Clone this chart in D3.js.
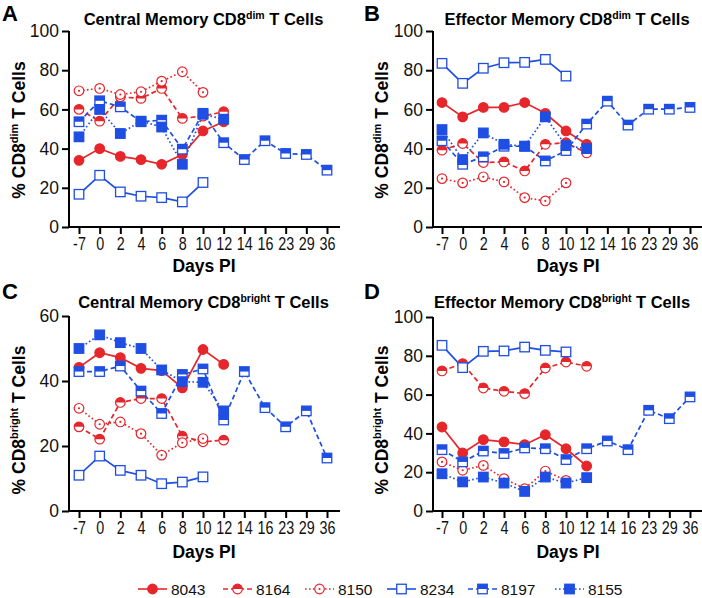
<!DOCTYPE html>
<html>
<head>
<meta charset="utf-8">
<script src="https://cdn.jsdelivr.net/npm/d3@7"></script>
<style>
  html, body { margin: 0; padding: 0; background: #fff; }
  svg { display: block; font-family: "Liberation Sans", Arial, Helvetica, sans-serif; }
</style>
</head>
<body>
<svg id="chart" width="702" height="598"></svg>
<script>
// ---- Data ----
const days = ["-7","0","2","4","6","8","10","12","14","16","23","29","36"];
const seriesIds = ["8043","8164","8150","8234","8197","8155"];

// Panel A: Central Memory CD8dim
const A_8043 = [34, 40, 36, 34.4, 32, 37, 49, 53.7];
const A_8164 = [60, 54, 66.4, 65.6, 70.7, 55.4, 56.6, 58.8];
const A_8150 = [69.5, 70.7, 67.6, 69, 74.4, 79.2, 68.7];
const A_8234 = [16.7, 26.4, 17.9, 15.7, 15, 12.8, 22.7];
const A_8197 = [53.7, 64.4, 61.3, 53.7, 54.5, 39.7, 58, 43, 34.4, 44, 37.5, 37, 29];
const A_8155 = [46, 60, 47.7, 54, 51, 32, 57.5, 55];

// Panel B: Effector Memory CD8dim
const B_8043 = [63.5, 56.2, 61, 61, 63.5, 58, 49, 42.2];
const B_8164 = [39.2, 42.6, 32.9, 33.2, 28.6, 42.2, 43, 37.8];
const B_8150 = [24.7, 22.5, 25.6, 23, 15, 13.3, 22.5];
const B_8234 = [83.5, 73.3, 81, 83.8, 84, 85.5, 77];
const B_8197 = [44, 32, 35.8, 41.2, 41.2, 33.7, 39, 52.5, 64.2, 52, 60.1, 60.1, 61];
const B_8155 = [49.7, 34.4, 48, 42.2, 41.2, 56.2, 41.5, 40];

// Panel C: Central Memory CD8bright
const C_8043 = [44.2, 48.7, 47.2, 43.9, 43.2, 37.9, 49.7, 45.1];
const C_8164 = [25.9, 22.1, 33.4, 34.6, 34.6, 23, 21.3, 21.8];
const C_8150 = [31.6, 26.7, 27.4, 23.8, 17.2, 21, 22.3];
const C_8234 = [11, 16.9, 12.5, 11, 8.4, 8.9, 10.5];
const C_8197 = [42.9, 42.9, 44.6, 36.9, 30, 42, 43.7, 28, 42.9, 31.8, 25.9, 30.8, 16.3];
const C_8155 = [50, 54.2, 51.8, 50, 43.4, 39.8, 39.6, 30.8];

// Panel D: Effector Memory CD8bright
const D_8043 = [43.3, 29.9, 36.8, 35.6, 34.2, 39.3, 32.1, 23.2];
const D_8164 = [72.2, 76, 63.4, 61.7, 60.5, 73.7, 76.8, 74.6];
const D_8150 = [25.3, 21, 23.5, 16.7, 11.5, 20.6, 15.8];
const D_8234 = [85.4, 73.9, 82.3, 82.5, 84.5, 82.8, 82];
const D_8197 = [31.6, 25.3, 30.9, 29.6, 32.5, 32.1, 26.5, 32.1, 36.1, 31.6, 51.9, 47.6, 58.8];
const D_8155 = [19.2, 15, 17.5, 14.4, 10.1, 17.5, 14.4, 17.2];

const yTicksDim = [0, 20, 40, 60, 80, 100];
const yTicksC = [0, 20, 40, 60];

// ---- Styles ----
const RED = "#e5262b";
const BLUE = "#1f4ee3";
const style = {
  "8043": {color: RED,  dash: null,      marker: "circleFilled"},
  "8164": {color: RED,  dash: "5,3",     marker: "circleHalf"},
  "8150": {color: RED,  dash: "1.6,2.4", marker: "circleDot"},
  "8234": {color: BLUE, dash: null,      marker: "squareOpen"},
  "8197": {color: BLUE, dash: "5,3",     marker: "squareHalf"},
  "8155": {color: BLUE, dash: "1.6,2.4", marker: "squareFilled"}
};

const panels = [
  {letter: "A", title: "Central Memory CD8", sup: "dim", ysup: "dim",
   data: {"8043": A_8043, "8164": A_8164, "8150": A_8150, "8234": A_8234, "8197": A_8197, "8155": A_8155},
   yMax: 100, ticks: yTicksDim,
   ax: 69, xr: [79, 327], xEnd: 340, yr: [227, 31],
   letterPos: [2, 21], titleX: 203.5, titleY: 25, ylab: [25, 130], daysPos: [204, 272]},
  {letter: "B", title: "Effector Memory CD8", sup: "dim", ysup: "dim",
   data: {"8043": B_8043, "8164": B_8164, "8150": B_8150, "8234": B_8234, "8197": B_8197, "8155": B_8155},
   yMax: 100, ticks: yTicksDim,
   ax: 433, xr: [442, 690], xEnd: 702, yr: [227, 31],
   letterPos: [364, 21], titleX: 567, titleY: 25, ylab: [388, 130], daysPos: [568, 272]},
  {letter: "C", title: "Central Memory CD8", sup: "bright", ysup: "bright",
   data: {"8043": C_8043, "8164": C_8164, "8150": C_8150, "8234": C_8234, "8197": C_8197, "8155": C_8155},
   yMax: 60, ticks: yTicksC,
   ax: 69, xr: [79, 327], xEnd: 340, yr: [511, 316],
   letterPos: [2, 299], titleX: 203.5, titleY: 308, ylab: [25, 420], daysPos: [204, 558]},
  {letter: "D", title: "Effector Memory CD8", sup: "bright", ysup: "bright",
   data: {"8043": D_8043, "8164": D_8164, "8150": D_8150, "8234": D_8234, "8197": D_8197, "8155": D_8155},
   yMax: 100, ticks: yTicksDim,
   ax: 433, xr: [442, 690], xEnd: 702, yr: [511, 317],
   letterPos: [364, 299], titleX: 562, titleY: 308, ylab: [388, 420], daysPos: [568, 558]}
];

const svg = d3.select("#chart");

function drawMarker(g, type, color) {
  const r = 4.8, s = 9.5;
  if (type === "circleFilled") {
    g.append("circle").attr("r", r).attr("fill", color).attr("stroke", color).attr("stroke-width", 1.2);
  } else if (type === "circleHalf") {
    g.append("circle").attr("r", r).attr("fill", "#fff").attr("stroke", color).attr("stroke-width", 1.2);
    g.append("path").attr("d", `M${-r},0A${r},${r} 0 0 1 ${r},0Z`).attr("fill", color);
  } else if (type === "circleDot") {
    g.append("circle").attr("r", r).attr("fill", "#fff").attr("stroke", color).attr("stroke-width", 1.2);
    g.append("circle").attr("r", 1.1).attr("fill", color);
  } else if (type === "squareOpen") {
    g.append("rect").attr("x", -s/2).attr("y", -s/2).attr("width", s).attr("height", s)
      .attr("fill", "#fff").attr("stroke", color).attr("stroke-width", 1.3);
  } else if (type === "squareHalf") {
    g.append("rect").attr("x", -s/2).attr("y", -s/2).attr("width", s).attr("height", s)
      .attr("fill", "#fff").attr("stroke", color).attr("stroke-width", 1.3);
    g.append("rect").attr("x", -s/2).attr("y", -s/2).attr("width", s).attr("height", s/2).attr("fill", color);
  } else if (type === "squareFilled") {
    g.append("rect").attr("x", -s/2).attr("y", -s/2).attr("width", s).attr("height", s)
      .attr("fill", color).attr("stroke", color).attr("stroke-width", 1.3);
  }
}

panels.forEach(p => {
  const x = d3.scalePoint().domain(days).range(p.xr);
  const y = d3.scaleLinear().domain([0, p.yMax]).range(p.yr);
  const g = svg.append("g");

  // Y axis
  const ya = g.append("g").attr("transform", `translate(${p.ax},0)`)
    .call(d3.axisLeft(y).tickValues(p.ticks).tickSize(7).tickPadding(3).tickSizeOuter(0));
  ya.select(".domain").attr("stroke-width", 2).attr("d", `M0,${y(0)}V${y(p.yMax)}`);
  ya.selectAll(".tick line").attr("stroke-width", 2);
  ya.selectAll(".tick text").attr("font-size", 17.5).attr("fill", "#111")
    .attr("font-family", "Liberation Sans, Arial, sans-serif");

  // X axis
  const xa = g.append("g").attr("transform", `translate(0,${y(0)})`)
    .call(d3.axisBottom(x).tickSize(7).tickPadding(4).tickSizeOuter(0));
  xa.select(".domain").attr("stroke-width", 2).attr("d", `M${p.ax},0H${p.xEnd}`);
  xa.selectAll(".tick line").attr("stroke-width", 2);
  xa.selectAll(".tick text").attr("font-size", 17.5).attr("fill", "#111")
    .attr("font-family", "Liberation Sans, Arial, sans-serif")
    .attr("transform", "scale(0.82,1)");

  // Lines
  seriesIds.forEach(id => {
    const vals = p.data[id];
    const pts = vals.map((v, i) => ({d: days[i], v})).filter(o => o.v != null);
    const st = style[id];
    g.append("path").datum(pts)
      .attr("fill", "none").attr("stroke", st.color).attr("stroke-width", 1.7)
      .attr("stroke-dasharray", st.dash)
      .attr("d", d3.line().x(o => x(o.d)).y(o => y(o.v)));
  });
  // Markers (red first, blue on top)
  seriesIds.forEach(id => {
    const vals = p.data[id];
    const st = style[id];
    vals.forEach((v, i) => {
      if (v == null) return;
      const mg = g.append("g").attr("transform", `translate(${x(days[i])},${y(v)})`);
      drawMarker(mg, st.marker, st.color);
    });
  });

  // Panel letter
  g.append("text").attr("x", p.letterPos[0]).attr("y", p.letterPos[1])
    .attr("font-size", 22).attr("font-weight", "bold").attr("fill", "#000").text(p.letter);

  // Title
  const t = g.append("text").attr("x", p.titleX).attr("y", p.titleY)
    .attr("text-anchor", "middle").attr("font-size", 16.5).attr("font-weight", "bold").attr("fill", "#000");
  t.append("tspan").text(p.title);
  t.append("tspan").attr("font-size", 10.5).attr("dy", -6).text(p.sup);
  t.append("tspan").attr("dy", 6).text(" T Cells");

  // Y label
  const yl = g.append("text")
    .attr("transform", `translate(${p.ylab[0]},${p.ylab[1]}) rotate(-90)`)
    .attr("text-anchor", "middle").attr("font-size", 17.5).attr("font-weight", "bold").attr("fill", "#000");
  yl.append("tspan").text("% CD8");
  yl.append("tspan").attr("font-size", 11).attr("dy", -7).text(p.ysup);
  yl.append("tspan").attr("dy", 7).text(" T Cells");

  // X label
  g.append("text").attr("x", p.daysPos[0]).attr("y", p.daysPos[1])
    .attr("text-anchor", "middle").attr("font-size", 17.5).attr("font-weight", "bold").attr("fill", "#000")
    .text("Days PI");
});

// Legend
const legendX = [138, 223, 305, 387, 468, 555];
const legendY = 589;
const lg = svg.append("g");
seriesIds.forEach((id, i) => {
  const st = style[id];
  const x0 = legendX[i];
  lg.append("line").attr("x1", x0).attr("x2", x0 + 29).attr("y1", legendY).attr("y2", legendY)
    .attr("stroke", st.color).attr("stroke-width", 1.6).attr("stroke-dasharray", st.dash);
  const mg = lg.append("g").attr("transform", `translate(${x0 + 14.5},${legendY})`);
  drawMarker(mg, st.marker, st.color);
  lg.append("text").attr("x", x0 + 33).attr("y", legendY + 5.5)
    .attr("font-size", 15.5).attr("fill", "#111").text(id);
});
</script>
</body>
</html>
